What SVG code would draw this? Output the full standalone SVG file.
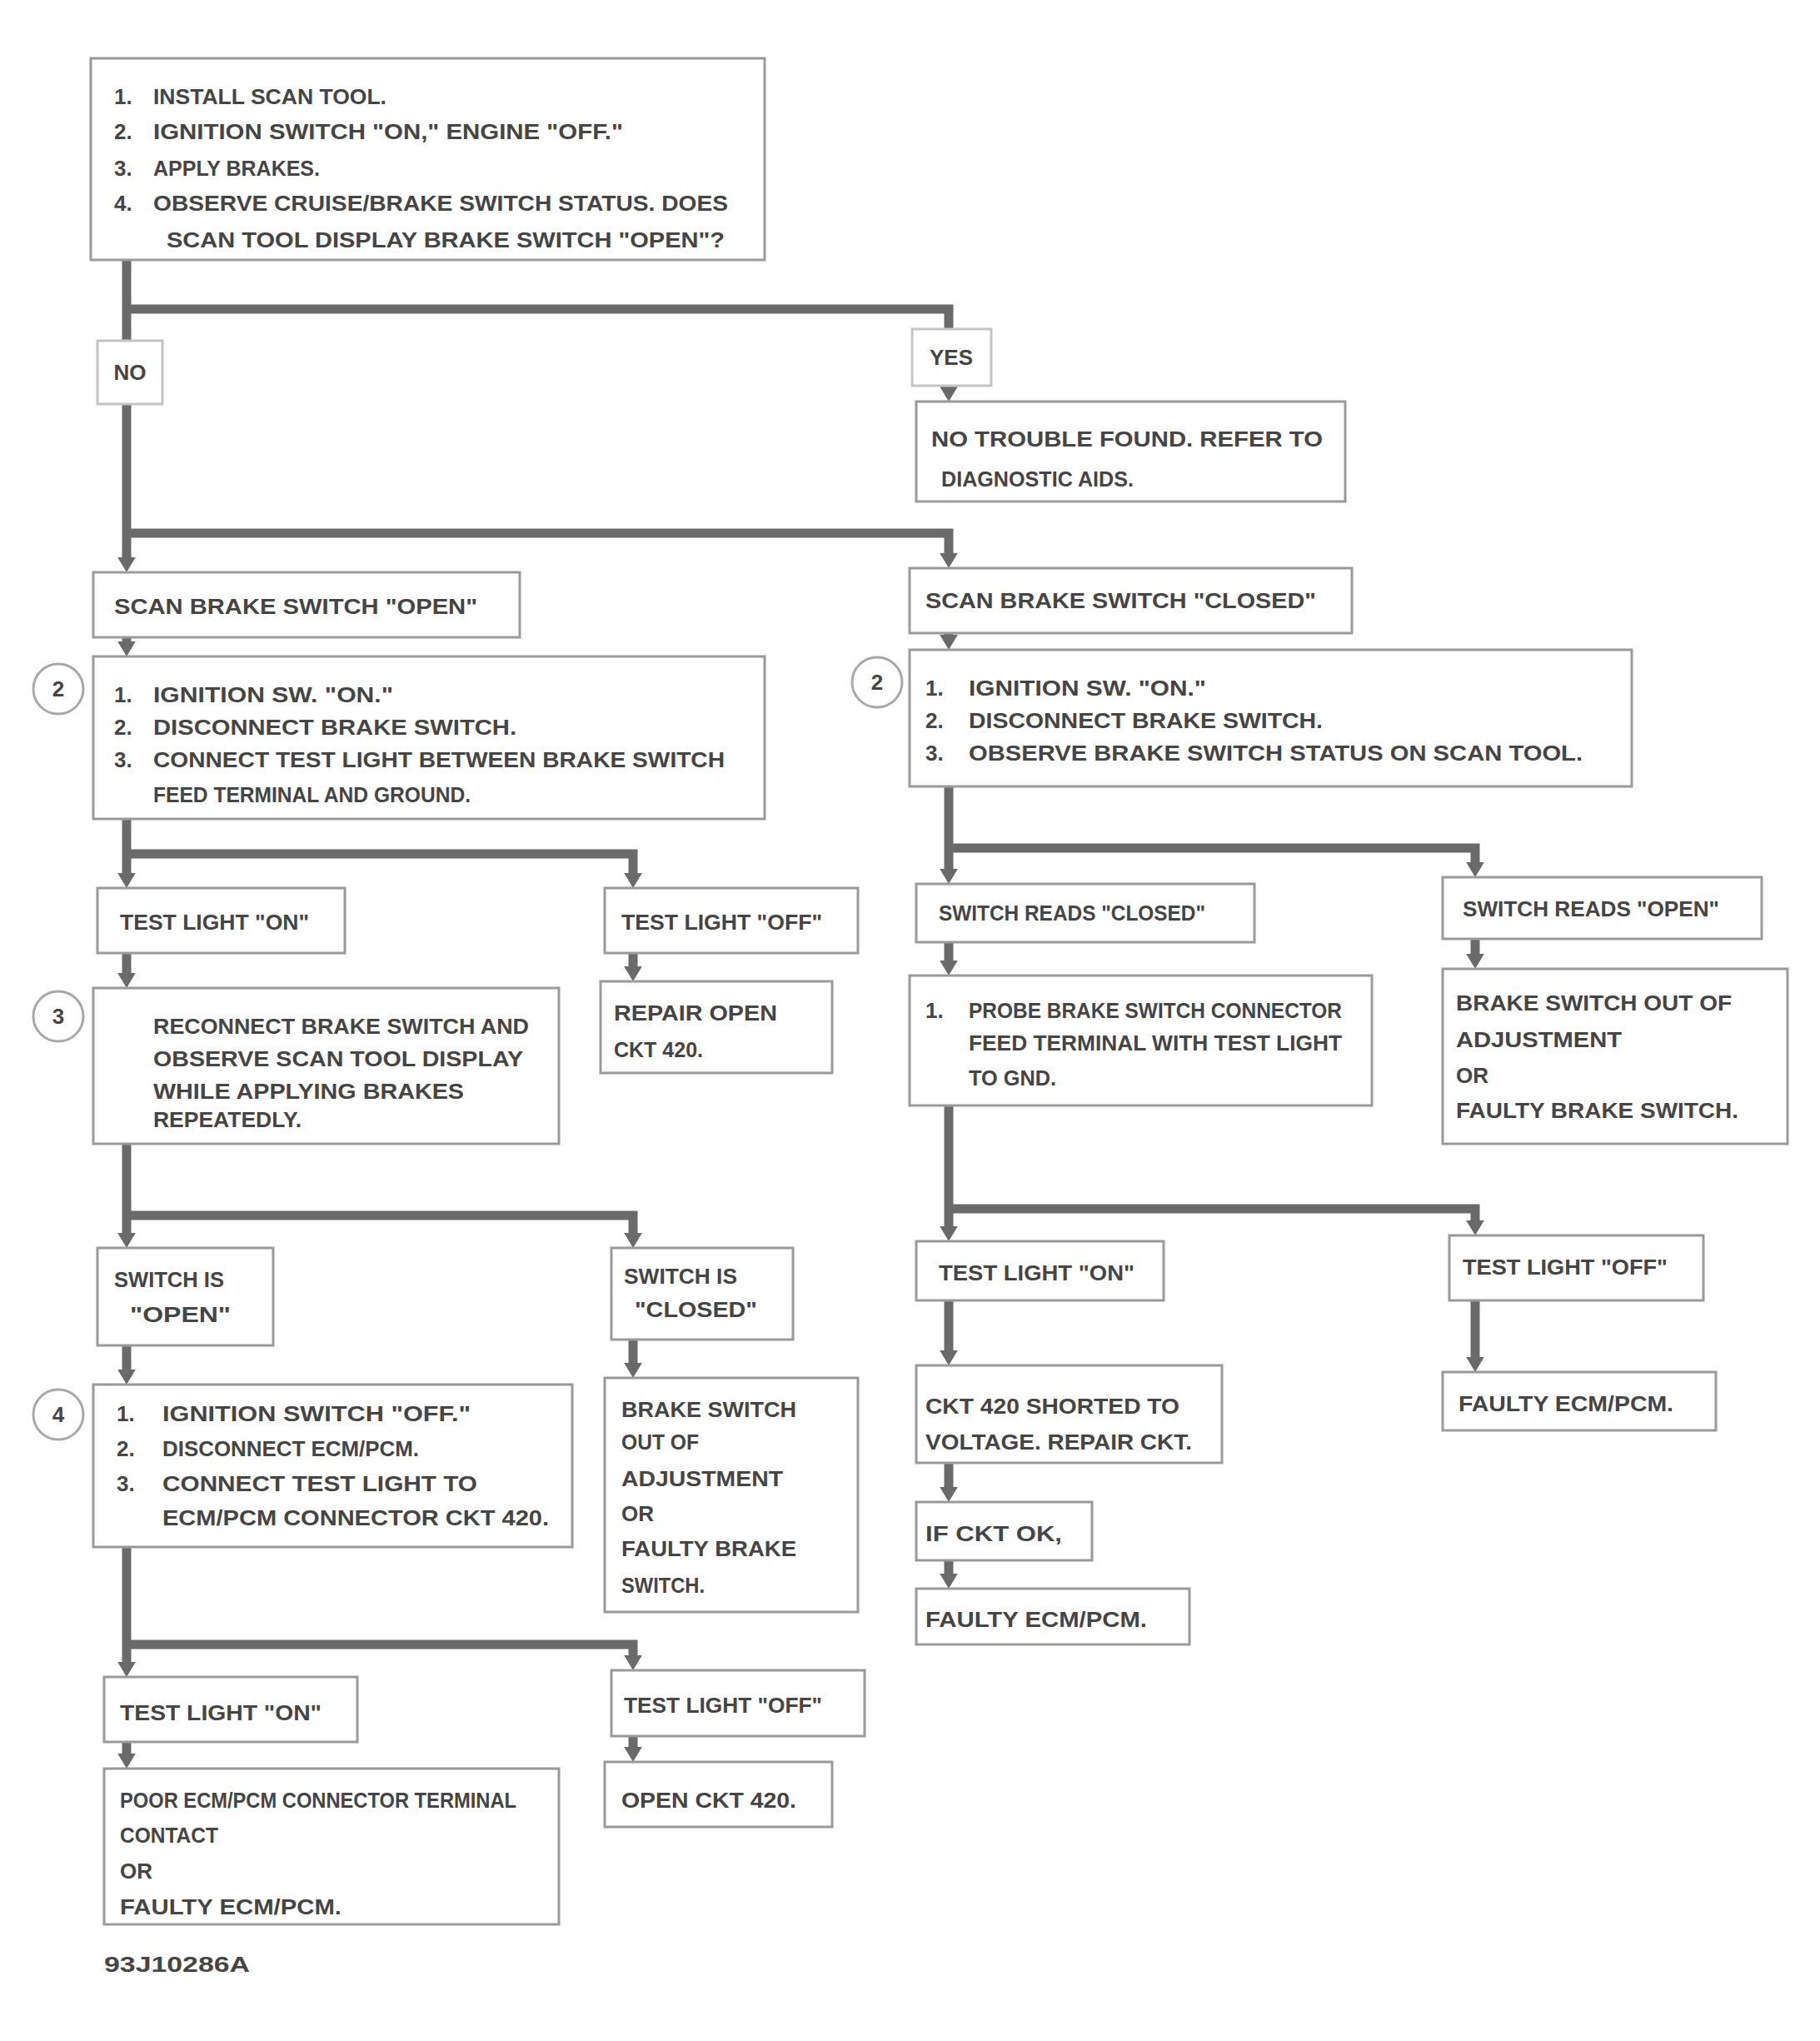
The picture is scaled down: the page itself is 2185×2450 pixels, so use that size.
<svg xmlns="http://www.w3.org/2000/svg" width="2185" height="2450" viewBox="0 0 2185 2450">
<style>
.bx{fill:#fff;stroke:#9a9a9a;stroke-width:3}
.lb{fill:#fff;stroke:#c4c4c4;stroke-width:3}
.cn{fill:none;stroke:#6a6a6a;stroke-width:11;stroke-linejoin:miter;stroke-linecap:butt}
.t{font-family:"Liberation Sans",Arial,sans-serif;font-size:26px;font-weight:bold;fill:#454545}
.c{text-anchor:middle}
.ci{fill:#fff;stroke:#a8a8a8;stroke-width:3}
</style>
<defs>
<marker id="ah" viewBox="0 0 10 12" refX="0" refY="6" markerWidth="18" markerHeight="24" markerUnits="userSpaceOnUse" orient="auto"><path d="M0,0 L10,6 L0,12 z" fill="#6a6a6a"/></marker>
</defs>
<rect width="2185" height="2450" fill="#fff"/>
<g id="connectors">
<path class="cn" d="M152,312 V669" marker-end="url(#ah)"/>
<path class="cn" d="M152,371 H1139 V464" marker-end="url(#ah)"/>
<path class="cn" d="M152,640 H1139 V664" marker-end="url(#ah)"/>
<path class="cn" d="M152,765 V770" marker-end="url(#ah)"/>
<path class="cn" d="M1139,760 V762" marker-end="url(#ah)"/>
<path class="cn" d="M152,983 V1048" marker-end="url(#ah)"/>
<path class="cn" d="M152,1025 H760 V1048" marker-end="url(#ah)"/>
<path class="cn" d="M760,1144 V1160" marker-end="url(#ah)"/>
<path class="cn" d="M152,1144 V1168" marker-end="url(#ah)"/>
<path class="cn" d="M152,1373 V1480" marker-end="url(#ah)"/>
<path class="cn" d="M152,1459 H760 V1480" marker-end="url(#ah)"/>
<path class="cn" d="M152,1615 V1644" marker-end="url(#ah)"/>
<path class="cn" d="M760,1608 V1636" marker-end="url(#ah)"/>
<path class="cn" d="M152,1857 V1995" marker-end="url(#ah)"/>
<path class="cn" d="M152,1974 H760 V1987" marker-end="url(#ah)"/>
<path class="cn" d="M152,2091 V2105" marker-end="url(#ah)"/>
<path class="cn" d="M760,2084 V2097" marker-end="url(#ah)"/>
<path class="cn" d="M1139,944 V1043" marker-end="url(#ah)"/>
<path class="cn" d="M1139,1018 H1771 V1035" marker-end="url(#ah)"/>
<path class="cn" d="M1139,1131 V1153" marker-end="url(#ah)"/>
<path class="cn" d="M1771,1127 V1145" marker-end="url(#ah)"/>
<path class="cn" d="M1139,1327 V1472" marker-end="url(#ah)"/>
<path class="cn" d="M1139,1451 H1771 V1465" marker-end="url(#ah)"/>
<path class="cn" d="M1139,1561 V1621" marker-end="url(#ah)"/>
<path class="cn" d="M1771,1561 V1629" marker-end="url(#ah)"/>
<path class="cn" d="M1139,1756 V1785" marker-end="url(#ah)"/>
<path class="cn" d="M1139,1873 V1889" marker-end="url(#ah)"/>
</g>
<g id="n-start">
<rect class="bx" x="109" y="70" width="809" height="242"/>
<text class="t" x="137" y="125">1.</text><text class="t" x="184" y="125" textLength="280" lengthAdjust="spacingAndGlyphs">INSTALL SCAN TOOL.</text>
<text class="t" x="137" y="167">2.</text><text class="t" x="184" y="167" textLength="564" lengthAdjust="spacingAndGlyphs">IGNITION SWITCH "ON," ENGINE "OFF."</text>
<text class="t" x="137" y="211">3.</text><text class="t" x="184" y="211" textLength="200" lengthAdjust="spacingAndGlyphs">APPLY BRAKES.</text>
<text class="t" x="137" y="253">4.</text><text class="t" x="184" y="253" textLength="690" lengthAdjust="spacingAndGlyphs">OBSERVE CRUISE/BRAKE SWITCH STATUS. DOES</text>
<text class="t" x="200" y="297" textLength="670" lengthAdjust="spacingAndGlyphs">SCAN TOOL DISPLAY BRAKE SWITCH "OPEN"?</text>
</g>
<g id="n-no1"><rect class="lb" x="117" y="409" width="78" height="76"/><text class="t c" x="156" y="456">NO</text></g>
<g id="n-yes1"><rect class="lb" x="1095" y="395" width="95" height="68"/><text class="t c" x="1142" y="438">YES</text></g>
<g id="n-ntf">
<rect class="bx" x="1100" y="482" width="515" height="120"/>
<text class="t" x="1118" y="536" textLength="470" lengthAdjust="spacingAndGlyphs">NO TROUBLE FOUND. REFER TO</text>
<text class="t" x="1130" y="584" textLength="231" lengthAdjust="spacingAndGlyphs">DIAGNOSTIC AIDS.</text>
</g>
<g id="n-scan-open"><rect class="bx" x="112" y="687" width="512" height="78"/><text class="t" x="137" y="737" textLength="436" lengthAdjust="spacingAndGlyphs">SCAN BRAKE SWITCH "OPEN"</text></g>
<g id="n-scan-closed"><rect class="bx" x="1092" y="682" width="531" height="78"/><text class="t" x="1111" y="730" textLength="469" lengthAdjust="spacingAndGlyphs">SCAN BRAKE SWITCH "CLOSED"</text></g>
<g id="n-l3">
<rect class="bx" x="112" y="788" width="806" height="195"/>
<circle class="ci" cx="70" cy="827" r="30"/><text class="t c" x="70" y="836">2</text>
<text class="t" x="137" y="843">1.</text><text class="t" x="184" y="843" textLength="288" lengthAdjust="spacingAndGlyphs">IGNITION SW. "ON."</text>
<text class="t" x="137" y="882">2.</text><text class="t" x="184" y="882" textLength="436" lengthAdjust="spacingAndGlyphs">DISCONNECT BRAKE SWITCH.</text>
<text class="t" x="137" y="921">3.</text><text class="t" x="184" y="921" textLength="686" lengthAdjust="spacingAndGlyphs">CONNECT TEST LIGHT BETWEEN BRAKE SWITCH</text>
<text class="t" x="184" y="963" textLength="381" lengthAdjust="spacingAndGlyphs">FEED TERMINAL AND GROUND.</text>
</g>
<g id="n-r3">
<rect class="bx" x="1092" y="780" width="867" height="164"/>
<circle class="ci" cx="1053" cy="819" r="30"/><text class="t c" x="1053" y="828">2</text>
<text class="t" x="1111" y="835">1.</text><text class="t" x="1163" y="835" textLength="285" lengthAdjust="spacingAndGlyphs">IGNITION SW. "ON."</text>
<text class="t" x="1111" y="874">2.</text><text class="t" x="1163" y="874" textLength="425" lengthAdjust="spacingAndGlyphs">DISCONNECT BRAKE SWITCH.</text>
<text class="t" x="1111" y="913">3.</text><text class="t" x="1163" y="913" textLength="737" lengthAdjust="spacingAndGlyphs">OBSERVE BRAKE SWITCH STATUS ON SCAN TOOL.</text>
</g>
<g id="n-l4-on"><rect class="bx" x="117" y="1066" width="297" height="78"/><text class="t" x="144" y="1116" textLength="227" lengthAdjust="spacingAndGlyphs">TEST LIGHT "ON"</text></g>
<g id="n-l4-off"><rect class="bx" x="726" y="1066" width="304" height="78"/><text class="t" x="746" y="1116" textLength="241" lengthAdjust="spacingAndGlyphs">TEST LIGHT "OFF"</text></g>
<g id="n-open-ckt1">
<rect class="bx" x="721" y="1178" width="278" height="110"/>
<text class="t" x="737" y="1225" textLength="196" lengthAdjust="spacingAndGlyphs">REPAIR OPEN</text>
<text class="t" x="737" y="1269" textLength="107" lengthAdjust="spacingAndGlyphs">CKT 420.</text>
</g>
<g id="n-l5">
<rect class="bx" x="112" y="1186" width="559" height="187"/>
<circle class="ci" cx="70" cy="1220" r="30"/><text class="t c" x="70" y="1229">3</text>
<text class="t" x="184" y="1241" textLength="451" lengthAdjust="spacingAndGlyphs">RECONNECT BRAKE SWITCH AND</text>
<text class="t" x="184" y="1280" textLength="444" lengthAdjust="spacingAndGlyphs">OBSERVE SCAN TOOL DISPLAY</text>
<text class="t" x="184" y="1319" textLength="373" lengthAdjust="spacingAndGlyphs">WHILE APPLYING BRAKES</text>
<text class="t" x="184" y="1353" textLength="178" lengthAdjust="spacingAndGlyphs">REPEATEDLY.</text>
</g>
<g id="n-sw-open">
<rect class="bx" x="117" y="1498" width="211" height="117"/>
<text class="t" x="137" y="1545" textLength="132" lengthAdjust="spacingAndGlyphs">SWITCH IS</text>
<text class="t" x="156" y="1587" textLength="121" lengthAdjust="spacingAndGlyphs">"OPEN"</text>
</g>
<g id="n-sw-closed">
<rect class="bx" x="734" y="1498" width="218" height="110"/>
<text class="t" x="749" y="1541" textLength="136" lengthAdjust="spacingAndGlyphs">SWITCH IS</text>
<text class="t" x="762" y="1581" textLength="147" lengthAdjust="spacingAndGlyphs">"CLOSED"</text>
</g>
<g id="n-l7">
<rect class="bx" x="112" y="1662" width="575" height="195"/>
<circle class="ci" cx="70" cy="1698" r="30"/><text class="t c" x="70" y="1707">4</text>
<text class="t" x="140" y="1706">1.</text><text class="t" x="195" y="1706" textLength="370" lengthAdjust="spacingAndGlyphs">IGNITION SWITCH "OFF."</text>
<text class="t" x="140" y="1748">2.</text><text class="t" x="195" y="1748" textLength="308" lengthAdjust="spacingAndGlyphs">DISCONNECT ECM/PCM.</text>
<text class="t" x="140" y="1790">3.</text><text class="t" x="195" y="1790" textLength="378" lengthAdjust="spacingAndGlyphs">CONNECT TEST LIGHT TO</text>
<text class="t" x="195" y="1831" textLength="464" lengthAdjust="spacingAndGlyphs">ECM/PCM CONNECTOR CKT 420.</text>
</g>
<g id="n-r7">
<rect class="bx" x="726" y="1654" width="304" height="281"/>
<text class="t" x="746" y="1701" textLength="210" lengthAdjust="spacingAndGlyphs">BRAKE SWITCH</text>
<text class="t" x="746" y="1740" textLength="93" lengthAdjust="spacingAndGlyphs">OUT OF</text>
<text class="t" x="746" y="1784" textLength="194" lengthAdjust="spacingAndGlyphs">ADJUSTMENT</text>
<text class="t" x="746" y="1826">OR</text>
<text class="t" x="746" y="1868" textLength="210" lengthAdjust="spacingAndGlyphs">FAULTY BRAKE</text>
<text class="t" x="746" y="1912" textLength="100" lengthAdjust="spacingAndGlyphs">SWITCH.</text>
</g>
<g id="n-l8-on"><rect class="bx" x="125" y="2013" width="304" height="78"/><text class="t" x="144" y="2065" textLength="242" lengthAdjust="spacingAndGlyphs">TEST LIGHT "ON"</text></g>
<g id="n-l8-off"><rect class="bx" x="734" y="2005" width="304" height="79"/><text class="t" x="749" y="2056" textLength="238" lengthAdjust="spacingAndGlyphs">TEST LIGHT "OFF"</text></g>
<g id="n-l9">
<rect class="bx" x="125" y="2123" width="546" height="187"/>
<text class="t" x="144" y="2170" textLength="476" lengthAdjust="spacingAndGlyphs">POOR ECM/PCM CONNECTOR TERMINAL</text>
<text class="t" x="144" y="2212" textLength="118" lengthAdjust="spacingAndGlyphs">CONTACT</text>
<text class="t" x="144" y="2255">OR</text>
<text class="t" x="144" y="2298" textLength="266" lengthAdjust="spacingAndGlyphs">FAULTY ECM/PCM.</text>
</g>
<g id="n-open-ckt2"><rect class="bx" x="726" y="2115" width="273" height="78"/><text class="t" x="746" y="2170" textLength="210" lengthAdjust="spacingAndGlyphs">OPEN CKT 420.</text></g>
<g id="n-bb"><rect class="bx" x="1100" y="1061" width="406" height="70"/><text class="t" x="1127" y="1105" textLength="320" lengthAdjust="spacingAndGlyphs">SWITCH READS "CLOSED"</text></g>
<g id="n-cc"><rect class="bx" x="1732" y="1053" width="383" height="74"/><text class="t" x="1756" y="1100" textLength="308" lengthAdjust="spacingAndGlyphs">SWITCH READS "OPEN"</text></g>
<g id="n-r5l">
<rect class="bx" x="1092" y="1171" width="555" height="156"/>
<text class="t" x="1111" y="1222">1.</text><text class="t" x="1163" y="1222" textLength="448" lengthAdjust="spacingAndGlyphs">PROBE BRAKE SWITCH CONNECTOR</text>
<text class="t" x="1163" y="1261" textLength="448" lengthAdjust="spacingAndGlyphs">FEED TERMINAL WITH TEST LIGHT</text>
<text class="t" x="1163" y="1303" textLength="105" lengthAdjust="spacingAndGlyphs">TO GND.</text>
</g>
<g id="n-r5r">
<rect class="bx" x="1732" y="1163" width="414" height="210"/>
<text class="t" x="1748" y="1213" textLength="331" lengthAdjust="spacingAndGlyphs">BRAKE SWITCH OUT OF</text>
<text class="t" x="1748" y="1257" textLength="199" lengthAdjust="spacingAndGlyphs">ADJUSTMENT</text>
<text class="t" x="1748" y="1300">OR</text>
<text class="t" x="1748" y="1342" textLength="339" lengthAdjust="spacingAndGlyphs">FAULTY BRAKE SWITCH.</text>
</g>
<g id="n-gg"><rect class="bx" x="1100" y="1490" width="297" height="71"/><text class="t" x="1127" y="1537" textLength="235" lengthAdjust="spacingAndGlyphs">TEST LIGHT "ON"</text></g>
<g id="n-hh"><rect class="bx" x="1740" y="1483" width="305" height="78"/><text class="t" x="1756" y="1530" textLength="246" lengthAdjust="spacingAndGlyphs">TEST LIGHT "OFF"</text></g>
<g id="n-r7l">
<rect class="bx" x="1100" y="1639" width="367" height="117"/>
<text class="t" x="1111" y="1697" textLength="305" lengthAdjust="spacingAndGlyphs">CKT 420 SHORTED TO</text>
<text class="t" x="1111" y="1740" textLength="320" lengthAdjust="spacingAndGlyphs">VOLTAGE. REPAIR CKT.</text>
</g>
<g id="n-r7r"><rect class="bx" x="1732" y="1647" width="328" height="70"/><text class="t" x="1751" y="1694" textLength="258" lengthAdjust="spacingAndGlyphs">FAULTY ECM/PCM.</text></g>
<g id="n-r8l"><rect class="bx" x="1100" y="1803" width="211" height="70"/><text class="t" x="1111" y="1850" textLength="164" lengthAdjust="spacingAndGlyphs">IF CKT OK,</text></g>
<g id="n-r9l"><rect class="bx" x="1100" y="1907" width="328" height="67"/><text class="t" x="1111" y="1953" textLength="266" lengthAdjust="spacingAndGlyphs">FAULTY ECM/PCM.</text></g>
<g id="footer"><text class="t" x="125" y="2367" textLength="175" lengthAdjust="spacingAndGlyphs">93J10286A</text></g>
</svg>
